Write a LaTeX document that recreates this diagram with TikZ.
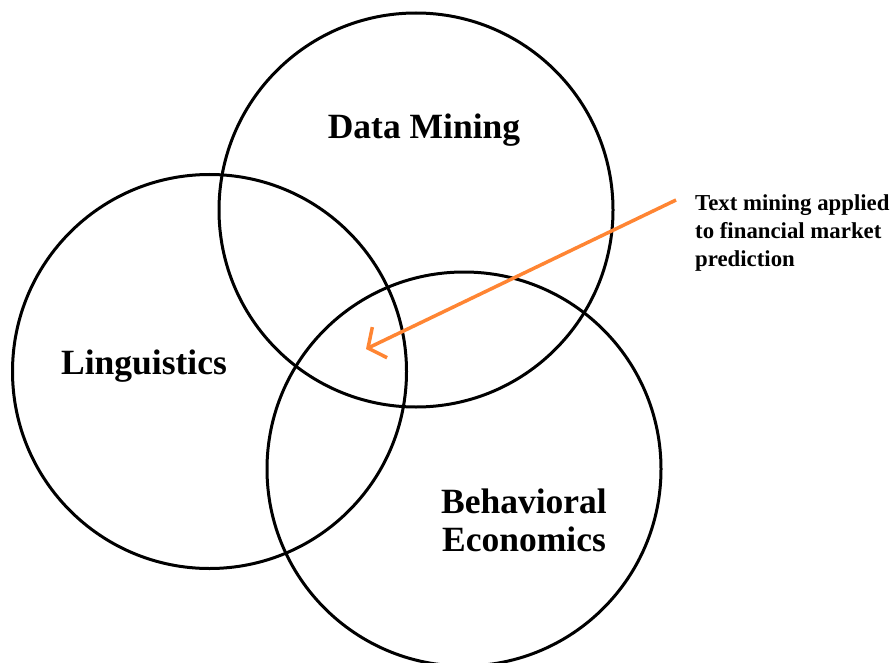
\documentclass[tikz,border=0pt]{standalone}
\usepackage{fontspec}
\setmainfont{Liberation Serif}
\usetikzlibrary{arrows.meta}
\definecolor{arroworange}{HTML}{FF8533}
\begin{document}
\begin{tikzpicture}[x=1pt,y=-1pt,
  setcircle/.style={draw=black,line width=3pt},
  biglabel/.style={font=\fontsize{35.5}{38}\selectfont\bfseries,inner sep=0pt,align=center},
  smalllabel/.style={font=\fontsize{22.8}{28}\selectfont\bfseries,inner sep=0pt,align=left},
  pointer/.style={draw=arroworange,line width=3.5pt,-{Straight Barb[length=13pt,width=34pt]}}]
\useasboundingbox (0,0) rectangle (893,663);
\draw[setcircle] (416,210) circle[radius=197];
\draw[setcircle] (209.5,371.5) circle[radius=197];
\draw[setcircle] (464,469) circle[radius=197];
\node[biglabel] (dm) at (424,130) {Data Mining};
\node[biglabel] (ling) at (144,366) {Linguistics};
\node[biglabel] (be) at (524,520) {Behavioral\\Economics};
\node[smalllabel,anchor=north west] (note) at (695,194) {Text mining applied\\to financial market\\prediction};
\coordinate (tailpt) at (676,200);
\coordinate (tippt) at (366,349);
\draw[pointer] (tailpt) -- (tippt);
\end{tikzpicture}
\end{document}
